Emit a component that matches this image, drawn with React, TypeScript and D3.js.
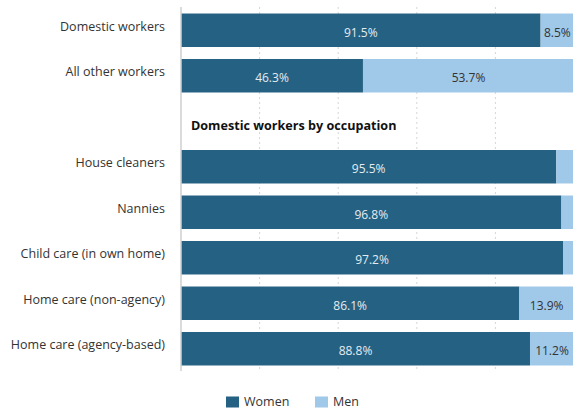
import React from "react";
import * as d3 from "d3";

const categories = [
  "Domestic workers",
  "All other workers",
  "__heading__",
  "House cleaners",
  "Nannies",
  "Child care (in own home)",
  "Home care (non-agency)",
  "Home care (agency-based)",
];
const women = [91.5, 46.3, null, 95.5, 96.8, 97.2, 86.1, 88.8];
const men = [8.5, 53.7, null, 4.5, 3.2, 2.8, 13.9, 11.2];
const menLabelShown = [true, true, false, false, false, false, true, true];
const headingText = "Domestic workers by occupation";
const xTicks = [0, 20, 40, 60, 80, 100];
const legendItems = ["Women", "Men"];

const W = 573;
const H = 410;
const C_WOMEN = "#256182";
const C_MEN = "#a0c8e8";
const FONT = "'Open Sans', sans-serif";

export default function App() {
  const x = d3.scaleLinear().domain([0, 100]).range([181, 574]);
  const y = d3
    .scaleBand<string>()
    .domain(categories)
    .range([7.5, 371.5])
    .paddingInner(0.264)
    .paddingOuter(0.132);
  const bw = y.bandwidth();

  return (
    <svg
      width={W}
      height={H}
      style={{ position: "absolute", left: 0, top: 0, background: "#fff" }}
      fontFamily={FONT}
    >
      {xTicks.slice(1).map((t) => (
        <line
          key={t}
          x1={x(t)}
          x2={x(t)}
          y1={7}
          y2={371}
          stroke="#d6d6d6"
          strokeWidth={1}
          strokeDasharray="2,3"
        />
      ))}
      {categories.map((c, i) => {
        const yy = y(c)!;
        const cy = yy + bw / 2;
        if (women[i] === null) {
          return (
            <text
              key={c}
              x={191}
              y={cy + 8.5}
              fontSize={12.6}
              fontWeight={700}
              fill="#111"
            >
              {headingText}
            </text>
          );
        }
        const w = women[i] as number;
        const m = men[i] as number;
        const xm0 = x(w);
        const xm1 = x(w + m);
        return (
          <g key={c}>
            <rect x={x(0)} y={yy} width={xm0 - x(0)} height={bw} fill={C_WOMEN} />
            <rect x={xm0} y={yy} width={xm1 - xm0} height={bw} fill={C_MEN} />
            <text
              x={(x(0) + xm0) / 2}
              y={cy + 6.5}
              textAnchor="middle"
              fontSize={12}
              fill="#e4ecf2"
            >
              {w.toFixed(1)}%
            </text>
            {menLabelShown[i] && (
              <text
                x={(xm0 + xm1) / 2}
                y={cy + 6.5}
                textAnchor="middle"
                fontSize={12}
                fill="#333"
              >
                {m.toFixed(1)}%
              </text>
            )}
            <text
              x={165}
              y={cy + 0.5}
              textAnchor="end"
              fontSize={12.5}
              fill="#333"
            >
              {c}
            </text>
          </g>
        );
      })}
      <line x1={x(0)} x2={x(0)} y1={7} y2={371} stroke="#cfcfcf" strokeWidth={1.5} />
      {legendItems.map((l, i) => {
        const lx = i === 0 ? 226 : 315;
        return (
          <g key={l}>
            <rect x={lx} y={396.5} width={13} height={11} fill={i === 0 ? C_WOMEN : C_MEN} />
            <text x={lx + 18} y={406} fontSize={12.5} fill="#333">
              {l}
            </text>
          </g>
        );
      })}
    </svg>
  );
}
